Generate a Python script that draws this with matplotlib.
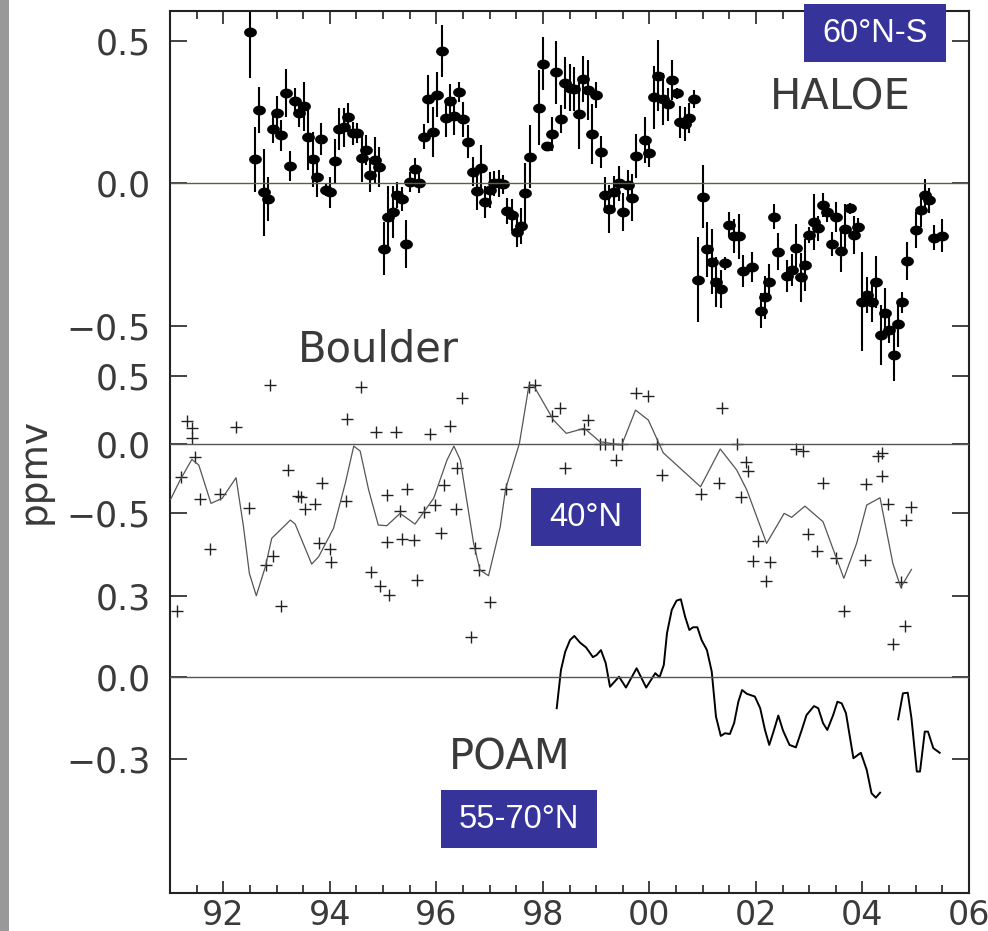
import numpy as np
import matplotlib
matplotlib.use('Agg')
import matplotlib.pyplot as plt
from matplotlib.patches import Rectangle
from matplotlib.ticker import MultipleLocator

plt.rcParams['font.family'] = ['DejaVu Sans']

# HALOE monthly means 60N-S (ppmv anomaly) with error bars
haloe_year = [1992.51, 1992.59, 1992.68, 1992.76, 1992.84, 1992.93,
              1993.01, 1993.09, 1993.18, 1993.26, 1993.34, 1993.43, 1993.51, 1993.59, 1993.68, 1993.76, 1993.84, 1993.93,
              1994.01, 1994.10, 1994.18, 1994.27, 1994.35, 1994.43, 1994.51, 1994.60, 1994.68, 1994.76, 1994.85, 1994.93,
              1995.02, 1995.10, 1995.18, 1995.27, 1995.35, 1995.43, 1995.51, 1995.60, 1995.68, 1995.76, 1995.85, 1995.93,
              1996.01, 1996.10, 1996.18, 1996.26, 1996.34, 1996.43, 1996.51, 1996.59, 1996.69, 1996.76,
              1996.84, 1996.92, 1997.01, 1997.08, 1997.17, 1997.26, 1997.33, 1997.42, 1997.51, 1997.59, 1997.67, 1997.76,
              1997.92, 1998.00, 1998.08, 1998.17, 1998.25, 1998.34, 1998.42, 1998.51, 1998.59, 1998.67, 1998.75, 1998.84, 1998.92,
              1999.00, 1999.09, 1999.17, 1999.25, 1999.34, 1999.42, 1999.51, 1999.59, 1999.67, 1999.75,
              1999.92, 2000.00, 2000.09, 2000.17, 2000.25, 2000.34, 2000.42, 2000.51, 2000.57, 2000.67, 2000.75, 2000.84,
              2000.92, 2001.00, 2001.09, 2001.17, 2001.25, 2001.34, 2001.42, 2001.50, 2001.59, 2001.68, 2001.75,
              2001.92, 2002.09, 2002.17, 2002.25, 2002.34, 2002.42, 2002.59, 2002.67, 2002.75, 2002.84, 2002.92,
              2003.00, 2003.09, 2003.17, 2003.25, 2003.33, 2003.42, 2003.50, 2003.59, 2003.67, 2003.76, 2003.84, 2003.92,
              2004.00, 2004.09, 2004.17, 2004.25, 2004.34, 2004.42, 2004.50, 2004.59, 2004.67, 2004.75, 2004.84,
              2005.00, 2005.09, 2005.17, 2005.25, 2005.34, 2005.50]
haloe_val = [0.530, 0.084, 0.257, -0.032, -0.055, 0.191, 0.246, 0.168, 0.316, 0.062, 0.290, 0.248, 0.271,
             0.164, 0.084, 0.023, 0.154, -0.024, -0.032, 0.078, 0.191, 0.196, 0.232, 0.175, 0.178, 0.088,
             0.117, 0.029, 0.082, 0.058, -0.229, -0.119, -0.101, -0.041, -0.055, -0.213, 0.006, 0.049,
             0.000, 0.164, 0.295, 0.180, 0.310, 0.465, 0.228, 0.289, 0.237, 0.321, 0.225, 0.146, 0.041, -0.027,
             0.055, -0.067, -0.024, 0.000, 0.000, -0.004, -0.097, -0.111, -0.172, -0.150, -0.035, 0.093,
             0.265, 0.420, 0.131, 0.173, 0.389, 0.226, 0.353, 0.335, 0.331, 0.243, 0.366, 0.327, 0.173,
             0.310, 0.109, -0.041, -0.090, -0.029, 0.000, -0.100, -0.006, -0.051, 0.096,
             0.152, 0.107, 0.302, 0.378, 0.295, 0.277, 0.362, 0.316, 0.216, 0.208, 0.228, 0.296,
             -0.339, -0.047, -0.232, -0.275, -0.345, -0.371, -0.281, -0.146, -0.185, -0.185, -0.308,
             -0.293, -0.447, -0.400, -0.345, -0.117, -0.240, -0.325, -0.304, -0.226, -0.330, -0.287,
             -0.181, -0.135, -0.158, -0.076, -0.100, -0.213, -0.117, -0.236, -0.161, -0.088, -0.182, -0.152,
             -0.415, -0.392, -0.415, -0.345, -0.532, -0.454, -0.515, -0.602, -0.494, -0.418, -0.272,
             -0.164, -0.094, -0.041, -0.059, -0.191, -0.184]
haloe_err = [0.160, 0.114, 0.082, 0.152, 0.078, 0.050, 0.060, 0.054, 0.085, 0.053, 0.044, 0.050, 0.086,
             0.117, 0.096, 0.070, 0.056, 0.020, 0.053, 0.078, 0.075, 0.069, 0.051, 0.041, 0.035, 0.082,
             0.053, 0.061, 0.082, 0.071, 0.094, 0.111, 0.091, 0.047, 0.041, 0.085, 0.035, 0.041,
             0.035, 0.044, 0.085, 0.087, 0.079, 0.091, 0.064, 0.061, 0.067, 0.035, 0.061, 0.058, 0.050, 0.067,
             0.079, 0.056, 0.064, 0.044, 0.047, 0.032, 0.047, 0.056, 0.053, 0.064, 0.105, 0.111,
             0.132, 0.094, 0.015, 0.061, 0.111, 0.050, 0.091, 0.082, 0.076, 0.123, 0.079, 0.105, 0.105,
             0.044, 0.056, 0.064, 0.085, 0.053, 0.061, 0.067, 0.053, 0.082, 0.076,
             0.082, 0.050, 0.111, 0.126, 0.091, 0.058, 0.070, 0.020, 0.056, 0.061, 0.053, 0.032,
             0.149, 0.110, 0.096, 0.114, 0.088, 0.067, 0.023, 0.044, 0.061, 0.079, 0.056,
             0.053, 0.061, 0.076, 0.061, 0.044, 0.064, 0.056, 0.056, 0.082, 0.085, 0.091,
             0.029, 0.099, 0.044, 0.041, 0.035, 0.041, 0.053, 0.076, 0.088, 0.018, 0.067, 0.029,
             0.173, 0.064, 0.073, 0.091, 0.105, 0.085, 0.047, 0.091, 0.082, 0.038, 0.067,
             0.064, 0.058, 0.056, 0.044, 0.044, 0.058]

# Boulder 40N balloon soundings (crosses) and smoothed curve
boulder_year = [1991.32, 1991.42, 1991.42, 1991.46, 1991.21, 1991.57, 1991.94, 1992.24, 1992.49, 1991.76,
                1992.87, 1991.13, 1992.81, 1992.93, 1993.09, 1993.21, 1993.40, 1993.46, 1993.54, 1993.73,
                1993.86, 1993.79, 1994.01, 1994.03, 1994.30, 1994.33, 1994.58, 1994.86, 1995.24, 1995.88,
                1996.25, 1996.49, 1995.08, 1995.45, 1995.32, 1995.76, 1995.97, 1996.14, 1996.39, 1996.37,
                1996.09, 1995.08, 1995.36, 1995.59, 1994.78, 1994.95, 1995.11, 1995.63, 1996.72, 1996.81,
                1997.00, 1996.66, 1997.30, 1997.74, 1997.85, 1998.18, 1998.32, 1998.42, 1998.78, 1998.84,
                1999.07, 1999.17, 1999.32, 1999.48, 1999.37, 1999.74, 1999.98, 2000.14, 2000.24, 2000.96,
                2001.30, 2001.36, 2001.64, 2001.81, 2001.86, 2001.72, 2002.03, 2001.95, 2002.26, 2002.19,
                2002.75, 2002.88, 2003.26, 2002.98, 2003.14, 2003.51, 2004.05, 2003.66, 2004.06, 2004.30,
                2004.36, 2004.36, 2004.47, 2004.92, 2004.81, 2004.72, 2004.80, 2004.57]
boulder_val = [0.170, 0.119, 0.042, -0.093, -0.239, -0.404, -0.365, 0.122, -0.469, -0.766,
               0.428, -1.217, -0.883, -0.818, -1.180, -0.190, -0.380, -0.385, -0.477, -0.438,
               -0.287, -0.720, -0.769, -0.859, -0.416, 0.182, 0.418, 0.085, 0.090, 0.073,
               0.131, 0.334, -0.372, -0.331, -0.487, -0.494, -0.445, -0.301, -0.177, -0.477,
               -0.647, -0.715, -0.691, -0.701, -0.932, -1.036, -1.100, -0.991, -0.761, -0.920,
               -1.151, -1.411, -0.328, 0.418, 0.431, 0.207, 0.261, -0.173, 0.107, 0.175,
               0.000, 0.000, 0.000, 0.000, -0.117, 0.370, 0.350, 0.000, -0.226, -0.365,
               -0.282, 0.261, 0.000, -0.129, -0.197, -0.385, -0.706, -0.852, -0.864, -1.000,
               -0.036, -0.051, -0.287, -0.659, -0.779, -0.830, -0.847, -1.217, -0.294, -0.085,
               -0.068, -0.234, -0.440, -0.462, -0.555, -1.005, -1.326, -1.460]
boulder_fit_year = [1991.01, 1991.19, 1991.41, 1991.54, 1991.77, 1991.98, 1992.24, 1992.38, 1992.49, 1992.62,
                    1992.79, 1992.91, 1993.26, 1993.35, 1993.66, 1993.79, 1994.07, 1994.29, 1994.45, 1994.57,
                    1994.73, 1994.91, 1995.07, 1995.32, 1995.60, 1995.95, 1996.20, 1996.33, 1996.45, 1996.70,
                    1996.82, 1996.98, 1997.20, 1997.30, 1997.56, 1997.74, 1997.82, 1998.20, 1998.44, 1998.78,
                    1999.07, 1999.48, 1999.74, 1999.98, 2000.26, 2000.96, 2001.33, 2001.64, 2001.83, 2002.20,
                    2002.53, 2002.67, 2002.92, 2003.26, 2003.65, 2003.89, 2004.08, 2004.33, 2004.57, 2004.72,
                    2004.92]
boulder_fit_val = [-0.404, -0.263, -0.112, -0.153, -0.433, -0.396, -0.246, -0.604, -0.944, -1.107,
                   -0.896, -0.688, -0.555, -0.584, -0.876, -0.823, -0.615, -0.287, -0.015, -0.051,
                   -0.336, -0.591, -0.596, -0.506, -0.584, -0.396, -0.117, -0.015, -0.117, -0.725,
                   -0.920, -0.961, -0.604, -0.328, 0.005, 0.431, 0.431, 0.175, 0.078, 0.115,
                   0.017, -0.007, 0.248, 0.175, -0.064, -0.312, -0.036, -0.190, -0.336, -0.725,
                   -0.506, -0.535, -0.453, -0.567, -0.980, -0.725, -0.445, -0.392, -0.871, -1.046,
                   -0.915]

# POAM 55-70N, two segments
poam_year1 = [1998.26, 1998.34, 1998.42, 1998.51, 1998.59, 1998.70, 1998.81, 1998.94, 1999.01, 1999.09,
              1999.18, 1999.26, 1999.43, 1999.56, 1999.76, 1999.94, 2000.11, 2000.19, 2000.27, 2000.33,
              2000.42, 2000.51, 2000.59, 2000.67, 2000.75, 2000.82, 2000.90, 2000.98, 2001.08, 2001.17,
              2001.25, 2001.34, 2001.42, 2001.51, 2001.59, 2001.67, 2001.74, 2001.83, 2001.98, 2002.08,
              2002.17, 2002.25, 2002.33, 2002.42, 2002.51, 2002.63, 2002.75, 2002.86, 2002.95, 2003.09,
              2003.17, 2003.26, 2003.34, 2003.45, 2003.53, 2003.61, 2003.69, 2003.83, 2003.97, 2004.08,
              2004.17, 2004.25, 2004.33]
poam_val1 = [-0.114, 0.027, 0.094, 0.137, 0.152, 0.127, 0.110, 0.074, 0.082, 0.100,
             0.052, -0.035, 0.002, -0.038, 0.033, -0.038, 0.015, 0.000, 0.045, 0.162,
             0.248, 0.282, 0.287, 0.223, 0.174, 0.184, 0.184, 0.137, 0.100, 0.021,
             -0.145, -0.216, -0.206, -0.209, -0.169, -0.090, -0.047, -0.061, -0.071, -0.114,
             -0.194, -0.249, -0.200, -0.141, -0.197, -0.249, -0.258, -0.194, -0.139, -0.106,
             -0.114, -0.169, -0.194, -0.139, -0.090, -0.096, -0.132, -0.298, -0.278, -0.341,
             -0.427, -0.443, -0.425]
poam_year2 = [2004.67, 2004.76, 2004.85, 2004.92, 2005.02, 2005.08, 2005.17, 2005.23, 2005.33, 2005.45]
poam_val2 = [-0.155, -0.059, -0.057, -0.151, -0.347, -0.347, -0.200, -0.200, -0.261, -0.278]

year_ticks = [1992, 1994, 1996, 1998, 2000, 2002, 2004, 2006]
year_labels = ['92', '94', '96', '98', '00', '02', '04', '06']

W, H = 988, 931
ink = '#222222'
txt = '#3a3a3a'
box_blue = '#36349a'

fig = plt.figure(figsize=(W / 100, H / 100), dpi=100)
rect = [170 / W, 38 / H, 799 / W, 882 / H]
ax_h = fig.add_axes(rect)
ax_b = fig.add_axes(rect, sharex=ax_h, frameon=False)
ax_p = fig.add_axes(rect, sharex=ax_h, frameon=False)

# ellipse marker for HALOE points
t = np.linspace(0, 2 * np.pi, 40)
ellipse = np.column_stack([np.cos(t), 0.74 * np.sin(t)])

ax_h.errorbar(haloe_year, haloe_val, yerr=haloe_err, fmt='none', ecolor='black', elinewidth=1.5, capsize=0)
ax_h.plot(haloe_year, haloe_val, ls='none', marker=ellipse, ms=8.2, color='black')
ax_h.axhline(0, color='#5e5e48', lw=1.0)
ax_h.set_ylim(-2.490, 0.6046)

ax_b.plot(boulder_year, boulder_val, ls='none', marker='+', ms=9, mew=1.0, color=ink)
ax_b.plot(boulder_fit_year, boulder_fit_val, color='#555555', lw=0.9)
ax_b.axhline(0, color='#555555', lw=1.0)
ax_b.set_ylim(-3.277, 3.161)

ax_p.plot(poam_year1, poam_val1, color='black', lw=1.4)
ax_p.plot(poam_year2, poam_val2, color='black', lw=1.4)
ax_p.axhline(0, color='#555555', lw=1.0)
ax_p.set_ylim(-0.794, 2.452)

ax_h.set_xlim(1991, 2006)
ax_h.set_xticks(year_ticks, labels=year_labels)
ax_h.xaxis.set_minor_locator(MultipleLocator(0.5))
ax_h.tick_params(axis='x', which='major', direction='in', length=9, width=1.2, top=True, bottom=True,
                 labelsize=24, pad=4, labelcolor=txt, color=ink)
ax_h.tick_params(axis='x', which='minor', direction='in', length=6, width=1.2, top=True, bottom=True, color=ink)
for a in (ax_b, ax_p):
    a.tick_params(axis='x', which='both', bottom=False, top=False, labelbottom=False)

minus = '\u2212'
ax_h.set_yticks([0.5, 0.0, -0.5], labels=['0.5', '0.0', minus + '0.5'])
ax_b.set_yticks([0.5, 0.0, -0.5], labels=['0.5', '0.0', minus + '0.5'])
ax_p.set_yticks([0.3, 0.0, -0.3], labels=['0.3', '0.0', minus + '0.3'])
for a in (ax_h, ax_b, ax_p):
    a.tick_params(axis='y', direction='in', length=12, width=1.2, left=True, right=True,
                  labelleft=True, labelright=False, labelsize=25, pad=14, labelcolor=txt, color=ink)

for s in ax_h.spines.values():
    s.set_linewidth(1.5)
    s.set_color(ink)

# panel names
fig.text(840 / W, 1 - 98 / H, 'HALOE', fontsize=30, color=txt, ha='center', va='center')
fig.text(378 / W, 1 - 349 / H, 'Boulder', fontsize=30, color=txt, ha='center', va='center')
fig.text(510 / W, 1 - 758 / H, 'POAM', fontsize=30, color=txt, ha='center', va='center')
fig.text(35 / W, 1 - 471 / H, 'ppmv', fontsize=27, color=txt, rotation=90, ha='center', va='center')

# latitude boxes
for x0, y0, x1, y1, label in [(804, 4, 946, 62, '60°N-S'),
                              (531, 488, 641, 546, '40°N'),
                              (441, 790, 597, 848, '55-70°N')]:
    fig.add_artist(Rectangle((x0 / W, 1 - y1 / H), (x1 - x0) / W, (y1 - y0) / H,
                             transform=fig.transFigure, facecolor=box_blue, edgecolor='none', zorder=5))
    fig.text((x0 + x1) / 2 / W, 1 - (y0 + y1) / 2 / H, label, color='white', fontsize=23.5,
             family='Liberation Sans', ha='center', va='center', zorder=6)

# grey strip on the left edge
fig.add_artist(Rectangle((0, 0), 9 / W, 1, transform=fig.transFigure, facecolor='#999999',
                         edgecolor='none', zorder=5))

fig.savefig('out.png', dpi=100)
